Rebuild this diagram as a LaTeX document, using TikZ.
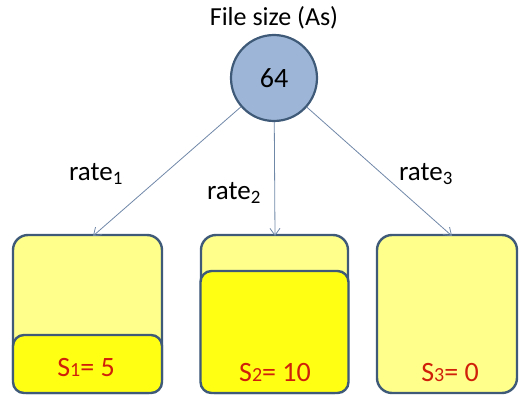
\documentclass[tikz,border=0pt]{standalone}
\usepackage{fontspec}
\setmainfont{Carlito}
\usetikzlibrary{arrows.meta}
\definecolor{edgeblue}{HTML}{3E5A78}
\definecolor{ballfill}{HTML}{9DB5D6}
\definecolor{paleyellow}{HTML}{FFFF8C}
\definecolor{fullyellow}{HTML}{FFFF14}
\definecolor{labelred}{HTML}{D0200A}
\definecolor{arrowgrey}{HTML}{7088A8}
\tikzset{
  ball/.style={circle, draw=edgeblue, fill=ballfill, line width=2.2pt, minimum size=86pt, inner sep=0pt, font=\fontsize{28}{32}\selectfont},
  bucket/.style={draw=edgeblue, fill=paleyellow, line width=2.4pt, rounded corners=15pt, inner sep=0pt},
  level/.style={draw=edgeblue, fill=fullyellow, line width=2.4pt, rounded corners=11pt, inner sep=0pt},
  flow/.style={draw=arrowgrey, line width=0.8pt, -{Straight Barb[length=7pt,width=10pt]}},
  ratetxt/.style={font=\fontsize{27}{30}\selectfont},
  amount/.style={text=labelred, font=\fontsize{28}{32}\selectfont},
}
\begin{document}
\begin{tikzpicture}[x=1pt,y=-1pt]
  \useasboundingbox (0,0) rectangle (520,401);
  % source of the file
  \node[font=\fontsize{26}{30}\selectfont] (title) at (274,18) {File size (As)};
  \node[ball] (src) at (274,78) {64};
  % three receiving buckets
  \node[bucket, minimum width=149pt, minimum height=158pt] (b1) at (87.5,314) {};
  \node[level, minimum width=149pt, minimum height=58pt] (l1) at (87.5,364) {};
  \node[bucket, minimum width=147pt, minimum height=158pt] (b2) at (274.5,314) {};
  \node[level, minimum width=148pt, minimum height=122pt] (l2) at (274.5,332) {};
  \node[bucket, minimum width=140pt, minimum height=158pt] (b3) at (447,314) {};
  % amounts stored
  \node[amount] (s1) at (86,368) {S{\fontsize{20}{24}\selectfont 1}= 5};
  \node[amount] (s2) at (275,373) {S{\fontsize{20}{24}\selectfont 2}= 10};
  \node[amount] (s3) at (450,373) {S{\fontsize{20}{24}\selectfont 3}= 0};
  % arrow targets on the bucket tops
  \coordinate (t1) at (93,236);
  \coordinate (t2) at (275,236);
  \coordinate (t3) at (452,236);
  \draw[flow] (src) -- (t1);
  \draw[flow] (src) -- (t2);
  \draw[flow] (src) -- (t3);
  % rate labels
  \node[ratetxt] (r1) at (96,174) {rate\textsubscript{1}};
  \node[ratetxt] (r2) at (234,193) {rate\textsubscript{2}};
  \node[ratetxt] (r3) at (426,174) {rate\textsubscript{3}};
\end{tikzpicture}
\end{document}
